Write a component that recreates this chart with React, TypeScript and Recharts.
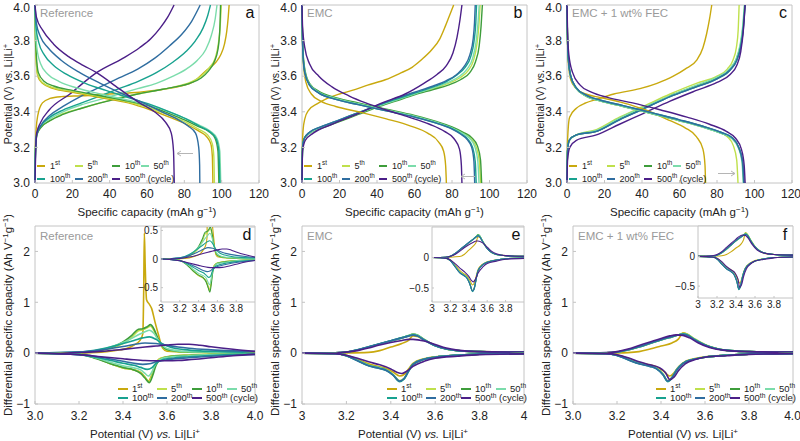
import { LineChart, Line, XAxis, YAxis, ReferenceArea } from 'recharts'

type Pt = [number, number]

const cycleNumbers = ['1', '5', '10', '50', '100', '200', '500']
const cycleSuffix = ['st', 'th', 'th', 'th', 'th', 'th', 'th']
const cycleColors = ['#c9a90e', '#bfe04c', '#3e9d3b', '#7bdcab', '#18a28f', '#2f6da0', '#4b1f88']

const capacityTicks = [0, 20, 40, 60, 80, 100, 120]
const potentialTicks = [3.0, 3.2, 3.4, 3.6, 3.8, 4.0]
const dqdvTicks = [-1, 0, 1, 2]
const insetXTicks = [3, 3.2, 3.4, 3.6, 3.8]

// [capacity mAh/g, potential V] per cycle: 1st, 5th, 10th, 50th, 100th, 200th, 500th
const refCharge: Pt[][] = [
  [[0, 3.0], [0.2, 3.2], [0.6, 3.3], [1.5, 3.38], [4, 3.45], [8, 3.475], [14, 3.485], [25, 3.49], [40, 3.5], [56, 3.51], [68, 3.525], [78, 3.545], [85, 3.57], [92, 3.635], [97, 3.68], [99.5, 3.72], [101.5, 3.78], [102.7, 3.85], [103.5, 3.93], [104, 4.0]],
  [[0, 3.0], [0.3, 3.2], [1, 3.27], [3, 3.31], [8, 3.35], [15, 3.39], [25, 3.42], [35, 3.45], [45, 3.48], [55, 3.5], [65, 3.52], [75, 3.54], [83, 3.565], [89, 3.6], [93.5, 3.65], [96.5, 3.7], [98.2, 3.78], [99.2, 3.88], [99.8, 4.0]],
  [[0, 3.0], [0.3, 3.2], [1, 3.27], [3, 3.31], [8, 3.35], [15, 3.385], [25, 3.42], [35, 3.45], [45, 3.475], [55, 3.5], [65, 3.52], [75, 3.54], [83, 3.56], [89, 3.59], [93, 3.63], [96, 3.68], [98, 3.75], [99, 3.86], [99.4, 4.0]],
  [[0, 3.0], [0.3, 3.2], [1, 3.28], [3, 3.32], [8, 3.36], [15, 3.4], [25, 3.44], [35, 3.47], [45, 3.5], [55, 3.53], [65, 3.56], [74, 3.6], [81, 3.64], [87, 3.69], [91.5, 3.75], [94.5, 3.83], [96.5, 3.92], [97.5, 4.0]],
  [[0, 3.0], [0.3, 3.2], [1, 3.28], [3, 3.32], [8, 3.37], [15, 3.41], [25, 3.45], [35, 3.49], [45, 3.53], [55, 3.57], [65, 3.62], [74, 3.68], [81, 3.74], [86, 3.8], [90, 3.87], [92.5, 3.94], [94, 4.0]],
  [[0, 3.0], [0.3, 3.18], [1, 3.27], [3, 3.32], [8, 3.38], [15, 3.43], [25, 3.49], [35, 3.54], [45, 3.59], [55, 3.64], [64, 3.7], [72, 3.77], [79, 3.84], [84, 3.91], [88.5, 4.0]],
  [[0, 3.0], [0.3, 3.15], [0.9, 3.28], [3, 3.34], [7.6, 3.41], [18.7, 3.5], [33, 3.62], [47, 3.7], [56, 3.76], [62, 3.81], [67, 3.87], [71, 3.93], [74.5, 4.0]],
]
const refDischarge: Pt[][] = [
  [[0, 4.0], [0.2, 3.85], [0.6, 3.7], [1.5, 3.6], [4, 3.56], [10, 3.53], [20, 3.51], [35, 3.48], [50, 3.45], [62, 3.41], [72, 3.37], [81, 3.33], [88, 3.29], [92, 3.26], [94.2, 3.22], [95, 3.15], [95.3, 3.0]],
  [[0, 4.0], [0.2, 3.85], [0.6, 3.7], [1.5, 3.61], [4, 3.565], [10, 3.535], [20, 3.515], [35, 3.485], [50, 3.455], [62, 3.42], [72, 3.38], [81, 3.34], [88, 3.3], [92.5, 3.27], [95, 3.22], [95.8, 3.15], [96.1, 3.0]],
  [[0, 4.0], [0.2, 3.86], [0.7, 3.72], [1.8, 3.62], [5, 3.57], [10, 3.545], [20, 3.52], [35, 3.49], [50, 3.46], [62, 3.43], [72, 3.39], [81, 3.35], [88, 3.315], [93, 3.29], [96.5, 3.25], [98, 3.18], [98.5, 3.0]],
  [[0, 4.0], [0.3, 3.87], [1, 3.76], [3, 3.67], [7, 3.61], [13, 3.57], [22, 3.535], [35, 3.5], [50, 3.465], [62, 3.435], [72, 3.4], [81, 3.36], [88, 3.325], [94, 3.29], [97.5, 3.25], [99, 3.18], [99.5, 3.0]],
  [[0, 4.0], [0.5, 3.88], [2, 3.79], [5, 3.72], [10, 3.66], [17, 3.61], [27, 3.56], [38, 3.52], [50, 3.48], [62, 3.44], [72, 3.4], [81, 3.36], [88, 3.32], [94, 3.285], [97, 3.25], [98.5, 3.18], [99, 3.0]],
  [[0, 4.0], [0.7, 3.9], [3, 3.82], [7, 3.76], [14, 3.69], [24, 3.62], [35, 3.56], [47, 3.5], [58, 3.45], [68, 3.4], [76, 3.36], [82, 3.32], [86, 3.28], [87.7, 3.2], [88.2, 3.1], [88.3, 3.0]],
  [[0, 4.0], [0.8, 3.93], [4, 3.86], [10, 3.78], [18, 3.71], [26, 3.66], [33, 3.62], [45, 3.53], [56, 3.45], [64, 3.4], [70, 3.34], [73, 3.28], [74.2, 3.18], [74.6, 3.0]],
]

const emcCharge: Pt[][] = [
  [[0, 3.0], [0.2, 3.2], [0.6, 3.3], [1.5, 3.36], [3.6, 3.41], [8, 3.445], [12.4, 3.47], [20, 3.5], [26.7, 3.52], [35, 3.55], [44.4, 3.58], [52, 3.615], [58.7, 3.65], [64, 3.695], [69.3, 3.75], [73.5, 3.81], [76.4, 3.88], [79, 3.95], [80.9, 4.0]],
  [[0, 3.0], [0.3, 3.2], [1.2, 3.25], [4, 3.28], [10, 3.31], [20, 3.35], [30, 3.39], [40, 3.43], [50, 3.465], [60, 3.5], [70, 3.53], [78, 3.56], [84, 3.59], [88.5, 3.63], [91.5, 3.69], [93.3, 3.78], [94.3, 3.88], [95, 4.0]],
  [[0, 3.0], [0.3, 3.2], [1.2, 3.25], [4, 3.28], [10, 3.305], [20, 3.345], [30, 3.385], [40, 3.425], [50, 3.46], [60, 3.495], [70, 3.525], [78, 3.55], [84.5, 3.58], [89.5, 3.62], [92.5, 3.68], [94.5, 3.77], [95.5, 3.88], [96.2, 4.0]],
  [[0, 3.0], [0.3, 3.2], [1.2, 3.25], [4, 3.28], [10, 3.31], [20, 3.35], [30, 3.39], [40, 3.43], [50, 3.465], [60, 3.5], [70, 3.535], [78, 3.565], [84, 3.6], [88, 3.64], [91, 3.7], [92.8, 3.79], [93.8, 3.89], [94.5, 4.0]],
  [[0, 3.0], [0.3, 3.2], [1.2, 3.25], [4, 3.285], [10, 3.315], [20, 3.355], [30, 3.395], [40, 3.435], [50, 3.47], [60, 3.505], [70, 3.54], [77, 3.57], [83, 3.61], [87, 3.65], [90, 3.71], [91.8, 3.8], [92.7, 3.9], [93.1, 4.0]],
  [[0, 3.0], [0.3, 3.2], [1.2, 3.25], [4, 3.285], [10, 3.315], [20, 3.355], [30, 3.395], [40, 3.435], [50, 3.475], [60, 3.51], [70, 3.545], [77, 3.575], [82.5, 3.61], [86.5, 3.655], [89.5, 3.72], [91.3, 3.81], [92, 3.9], [92.4, 4.0]],
  [[0, 3.0], [0.3, 3.18], [1.8, 3.24], [6, 3.28], [16, 3.33], [30, 3.39], [42.7, 3.45], [55, 3.5], [65, 3.56], [72, 3.61], [77, 3.66], [80.5, 3.73], [82.7, 3.82], [84.3, 3.92], [85.3, 4.0]],
]
const emcDischarge: Pt[][] = [
  [[0, 4.0], [0.2, 3.85], [0.7, 3.68], [2, 3.57], [5, 3.5], [10, 3.46], [18, 3.43], [30, 3.4], [45, 3.36], [58, 3.32], [67, 3.28], [72.9, 3.23], [75.5, 3.18], [76.6, 3.1], [77, 3.0]],
  [[0, 4.0], [0.2, 3.85], [0.6, 3.72], [1.5, 3.63], [4, 3.555], [9, 3.51], [18, 3.475], [30, 3.445], [45, 3.41], [60, 3.375], [72, 3.34], [80, 3.31], [86, 3.28], [90, 3.25], [93, 3.2], [94.6, 3.12], [95.2, 3.0]],
  [[0, 4.0], [0.2, 3.86], [0.6, 3.73], [1.5, 3.64], [4, 3.56], [9, 3.515], [18, 3.48], [30, 3.45], [45, 3.415], [60, 3.38], [72, 3.345], [80, 3.315], [86, 3.285], [90.5, 3.255], [93.5, 3.21], [95.2, 3.13], [95.8, 3.0]],
  [[0, 4.0], [0.2, 3.85], [0.6, 3.72], [1.5, 3.63], [4, 3.555], [9, 3.51], [18, 3.475], [30, 3.445], [45, 3.41], [60, 3.375], [72, 3.34], [80, 3.31], [85.5, 3.28], [89.5, 3.25], [92.3, 3.2], [93.8, 3.12], [94.4, 3.0]],
  [[0, 4.0], [0.2, 3.84], [0.6, 3.71], [1.5, 3.62], [4, 3.55], [9, 3.505], [18, 3.47], [30, 3.44], [45, 3.405], [60, 3.37], [72, 3.335], [80, 3.305], [85, 3.275], [88.5, 3.245], [91, 3.2], [92.4, 3.12], [92.9, 3.0]],
  [[0, 4.0], [0.2, 3.84], [0.6, 3.71], [1.5, 3.62], [4, 3.55], [9, 3.505], [18, 3.47], [30, 3.44], [45, 3.405], [60, 3.37], [72, 3.335], [79.5, 3.305], [84.5, 3.275], [88, 3.245], [90.5, 3.2], [91.7, 3.12], [92.1, 3.0]],
  [[0, 4.0], [0.3, 3.88], [1.5, 3.76], [4, 3.67], [9, 3.6], [16, 3.54], [25, 3.49], [34, 3.45], [45, 3.41], [57, 3.37], [68, 3.33], [76, 3.29], [81, 3.25], [84, 3.19], [85, 3.1], [85.3, 3.0]],
]

const fecCharge: Pt[][] = [
  [[0, 3.0], [0.2, 3.2], [0.6, 3.3], [1.4, 3.37], [5, 3.42], [10, 3.45], [15.7, 3.47], [25, 3.5], [38.9, 3.53], [48, 3.56], [56.7, 3.6], [63, 3.64], [69.2, 3.69], [72.5, 3.76], [74.5, 3.84], [76, 3.92], [77.2, 4.0]],
  [[0, 3.0], [0.3, 3.18], [1.2, 3.24], [5, 3.27], [15.7, 3.3], [28, 3.37], [40.6, 3.43], [55, 3.5], [69, 3.56], [80, 3.6], [85.5, 3.64], [88.5, 3.69], [90.3, 3.76], [91.3, 3.86], [91.8, 4.0]],
  [[0, 3.0], [0.3, 3.18], [1.2, 3.24], [5, 3.27], [15.7, 3.29], [28, 3.36], [40.6, 3.42], [55, 3.49], [69, 3.545], [80, 3.59], [87, 3.64], [90.5, 3.7], [92.4, 3.77], [93.8, 3.87], [94.8, 4.0]],
  [[0, 3.0], [0.3, 3.18], [1.2, 3.24], [5, 3.27], [15.7, 3.295], [28, 3.365], [40.6, 3.425], [55, 3.49], [69, 3.55], [80, 3.595], [87, 3.645], [90.3, 3.7], [92.2, 3.77], [93.6, 3.87], [94.6, 4.0]],
  [[0, 3.0], [0.3, 3.18], [1.2, 3.24], [5, 3.27], [15.7, 3.29], [28, 3.355], [40.6, 3.415], [55, 3.485], [69, 3.54], [80, 3.585], [87, 3.635], [90.5, 3.69], [92.5, 3.76], [93.9, 3.86], [94.9, 4.0]],
  [[0, 3.0], [0.3, 3.18], [1.2, 3.24], [5, 3.27], [15.7, 3.29], [28, 3.355], [40.6, 3.415], [55, 3.485], [69, 3.54], [80, 3.585], [87, 3.635], [90.6, 3.69], [92.6, 3.76], [94, 3.86], [95, 4.0]],
  [[0, 3.0], [0.3, 3.13], [1.5, 3.2], [5, 3.24], [15.7, 3.27], [28, 3.33], [40.6, 3.39], [55, 3.46], [69, 3.52], [80, 3.565], [87, 3.61], [90.5, 3.66], [92.7, 3.74], [94, 3.85], [95, 4.0]],
]
const fecDischarge: Pt[][] = [
  [[0, 4.0], [0.2, 3.85], [0.7, 3.68], [2, 3.58], [5, 3.53], [10, 3.5], [18, 3.48], [30, 3.45], [42, 3.41], [55, 3.35], [63, 3.31], [69, 3.26], [72.5, 3.19], [73.6, 3.1], [73.9, 3.0]],
  [[0, 4.0], [0.2, 3.85], [0.7, 3.7], [2, 3.6], [5, 3.53], [10, 3.49], [18, 3.46], [30, 3.43], [45, 3.39], [60, 3.35], [72, 3.32], [80, 3.29], [85.5, 3.26], [88.7, 3.21], [90.5, 3.13], [91.2, 3.0]],
  [[0, 4.0], [0.2, 3.85], [0.7, 3.7], [2, 3.6], [5, 3.53], [10, 3.49], [18, 3.46], [30, 3.43], [45, 3.39], [60, 3.35], [72, 3.315], [82, 3.28], [88, 3.25], [91.5, 3.2], [93.5, 3.12], [94.2, 3.0]],
  [[0, 4.0], [0.2, 3.85], [0.7, 3.7], [2, 3.6], [5, 3.53], [10, 3.49], [18, 3.46], [30, 3.43], [45, 3.39], [60, 3.35], [72, 3.315], [82, 3.28], [88, 3.25], [91.3, 3.2], [93.3, 3.12], [94, 3.0]],
  [[0, 4.0], [0.2, 3.85], [0.7, 3.7], [2, 3.6], [5, 3.535], [10, 3.495], [18, 3.465], [30, 3.435], [45, 3.395], [60, 3.355], [72, 3.32], [82, 3.285], [88, 3.255], [91.6, 3.2], [93.7, 3.12], [94.4, 3.0]],
  [[0, 4.0], [0.2, 3.85], [0.7, 3.7], [2, 3.6], [5, 3.535], [10, 3.495], [18, 3.465], [30, 3.435], [45, 3.395], [60, 3.355], [72, 3.32], [82, 3.285], [88, 3.255], [91.6, 3.2], [93.6, 3.12], [94.3, 3.0]],
  [[0, 4.0], [0.3, 3.85], [1, 3.72], [3, 3.62], [7, 3.55], [13, 3.51], [22, 3.48], [35, 3.45], [50, 3.41], [64, 3.37], [76, 3.33], [85, 3.29], [90, 3.25], [93, 3.19], [94.5, 3.1], [95, 3.0]],
]

// [potential V, dQ/dV Ah/(V g)] per cycle, oxidation (charge) and reduction (discharge)
const refOx: Pt[][] = [
  [[3.0, 0], [3.2, 0.005], [3.3, 0.02], [3.36, 0.05], [3.416, 0.09], [3.45, 0.16], [3.477, 0.25], [3.49, 0.38], [3.494, 1.2], [3.497, 2.36], [3.501, 1.7], [3.507, 1.05], [3.52, 0.96], [3.53, 0.88], [3.545, 0.62], [3.56, 0.38], [3.58, 0.1], [3.6, 0.04], [3.7, 0.02], [3.8, 0.015], [4.0, 0.01]],
  [[3.0, 0], [3.2, 0.01], [3.3, 0.05], [3.35, 0.1], [3.4, 0.19], [3.44, 0.31], [3.47, 0.44], [3.49, 0.46], [3.51, 0.5], [3.525, 0.53], [3.54, 0.45], [3.56, 0.25], [3.58, 0.12], [3.6, 0.06], [3.65, 0.03], [3.7, 0.02], [3.8, 0.015], [4.0, 0.01]],
  [[3.0, 0], [3.2, 0.01], [3.3, 0.06], [3.35, 0.12], [3.4, 0.22], [3.44, 0.35], [3.47, 0.47], [3.49, 0.48], [3.51, 0.52], [3.525, 0.56], [3.54, 0.48], [3.56, 0.28], [3.58, 0.13], [3.6, 0.07], [3.65, 0.035], [3.7, 0.025], [3.8, 0.015], [4.0, 0.01]],
  [[3.0, 0], [3.2, 0.015], [3.3, 0.07], [3.35, 0.13], [3.4, 0.21], [3.44, 0.29], [3.47, 0.36], [3.5, 0.42], [3.52, 0.45], [3.54, 0.39], [3.56, 0.26], [3.58, 0.15], [3.6, 0.09], [3.65, 0.045], [3.7, 0.03], [3.8, 0.02], [4.0, 0.01]],
  [[3.0, 0], [3.2, 0.02], [3.3, 0.08], [3.35, 0.13], [3.4, 0.19], [3.45, 0.25], [3.49, 0.3], [3.52, 0.32], [3.55, 0.27], [3.58, 0.18], [3.62, 0.11], [3.68, 0.07], [3.75, 0.045], [3.85, 0.03], [4.0, 0.02]],
  [[3.0, 0], [3.2, 0.02], [3.3, 0.06], [3.4, 0.13], [3.45, 0.17], [3.5, 0.2], [3.55, 0.19], [3.6, 0.155], [3.65, 0.12], [3.7, 0.095], [3.8, 0.065], [3.9, 0.045], [4.0, 0.03]],
  [[3.0, 0], [3.2, 0.01], [3.3, 0.035], [3.4, 0.075], [3.5, 0.12], [3.55, 0.14], [3.6, 0.16], [3.65, 0.175], [3.7, 0.175], [3.75, 0.155], [3.8, 0.125], [3.9, 0.075], [4.0, 0.035]],
]
const refRed: Pt[][] = [
  [[3.0, 0], [3.2, -0.02], [3.25, -0.06], [3.3, -0.13], [3.35, -0.22], [3.4, -0.29], [3.45, -0.33], [3.48, -0.38], [3.5, -0.47], [3.515, -0.55], [3.53, -0.44], [3.545, -0.24], [3.56, -0.13], [3.58, -0.09], [3.6, -0.07], [3.7, -0.04], [3.8, -0.025], [4.0, -0.01]],
  [[3.0, 0], [3.2, -0.02], [3.25, -0.06], [3.3, -0.13], [3.35, -0.22], [3.4, -0.29], [3.45, -0.33], [3.48, -0.39], [3.5, -0.48], [3.517, -0.56], [3.53, -0.46], [3.545, -0.25], [3.56, -0.14], [3.58, -0.09], [3.6, -0.07], [3.7, -0.04], [3.8, -0.025], [4.0, -0.01]],
  [[3.0, 0], [3.2, -0.02], [3.25, -0.07], [3.3, -0.14], [3.35, -0.22], [3.4, -0.28], [3.45, -0.33], [3.48, -0.4], [3.5, -0.49], [3.52, -0.58], [3.535, -0.44], [3.55, -0.24], [3.565, -0.14], [3.58, -0.1], [3.6, -0.075], [3.7, -0.045], [3.8, -0.03], [4.0, -0.012]],
  [[3.0, 0], [3.2, -0.025], [3.3, -0.12], [3.35, -0.19], [3.4, -0.25], [3.45, -0.29], [3.48, -0.33], [3.5, -0.4], [3.515, -0.45], [3.53, -0.38], [3.545, -0.24], [3.56, -0.15], [3.58, -0.1], [3.6, -0.08], [3.7, -0.05], [3.8, -0.03], [4.0, -0.015]],
  [[3.0, 0], [3.2, -0.03], [3.3, -0.1], [3.35, -0.15], [3.4, -0.2], [3.45, -0.24], [3.48, -0.28], [3.51, -0.32], [3.53, -0.29], [3.55, -0.2], [3.58, -0.13], [3.62, -0.1], [3.7, -0.07], [3.8, -0.045], [4.0, -0.02]],
  [[3.0, 0], [3.2, -0.03], [3.3, -0.08], [3.35, -0.12], [3.4, -0.16], [3.45, -0.2], [3.49, -0.22], [3.52, -0.21], [3.55, -0.17], [3.6, -0.13], [3.7, -0.09], [3.8, -0.06], [3.9, -0.04], [4.0, -0.025]],
  [[3.0, 0], [3.2, -0.03], [3.3, -0.07], [3.4, -0.11], [3.45, -0.13], [3.5, -0.145], [3.55, -0.15], [3.6, -0.15], [3.65, -0.145], [3.7, -0.13], [3.8, -0.09], [3.9, -0.05], [4.0, -0.025]],
]

const emcOx: Pt[][] = [
  [[3.0, 0], [3.2, 0.005], [3.3, 0.015], [3.35, 0.05], [3.4, 0.12], [3.45, 0.19], [3.48, 0.25], [3.5, 0.34], [3.52, 0.33], [3.55, 0.26], [3.6, 0.15], [3.65, 0.08], [3.7, 0.05], [3.8, 0.03], [4.0, 0.02]],
  [[3.0, 0], [3.15, 0.005], [3.2, 0.02], [3.25, 0.06], [3.3, 0.12], [3.35, 0.18], [3.4, 0.24], [3.45, 0.3], [3.48, 0.34], [3.5, 0.37], [3.52, 0.35], [3.55, 0.27], [3.6, 0.15], [3.65, 0.08], [3.7, 0.05], [3.8, 0.03], [3.9, 0.02], [4.0, 0.02]],
  [[3.0, 0], [3.15, 0.005], [3.2, 0.02], [3.25, 0.06], [3.3, 0.12], [3.35, 0.18], [3.4, 0.24], [3.45, 0.3], [3.48, 0.345], [3.5, 0.375], [3.52, 0.355], [3.55, 0.27], [3.6, 0.15], [3.65, 0.08], [3.7, 0.05], [3.8, 0.03], [3.9, 0.02], [4.0, 0.02]],
  [[3.0, 0], [3.15, 0.005], [3.2, 0.02], [3.25, 0.06], [3.3, 0.12], [3.35, 0.18], [3.4, 0.24], [3.45, 0.3], [3.48, 0.34], [3.5, 0.37], [3.52, 0.35], [3.55, 0.27], [3.6, 0.15], [3.65, 0.08], [3.7, 0.05], [3.8, 0.03], [3.9, 0.02], [4.0, 0.02]],
  [[3.0, 0], [3.15, 0.005], [3.2, 0.02], [3.25, 0.065], [3.3, 0.125], [3.35, 0.185], [3.4, 0.245], [3.45, 0.305], [3.48, 0.34], [3.5, 0.36], [3.52, 0.34], [3.55, 0.26], [3.6, 0.145], [3.65, 0.08], [3.7, 0.05], [3.8, 0.03], [3.9, 0.02], [4.0, 0.02]],
  [[3.0, 0], [3.15, 0.005], [3.2, 0.02], [3.25, 0.065], [3.3, 0.125], [3.35, 0.185], [3.4, 0.245], [3.45, 0.3], [3.48, 0.335], [3.5, 0.355], [3.52, 0.335], [3.55, 0.26], [3.6, 0.145], [3.65, 0.08], [3.7, 0.05], [3.8, 0.03], [3.9, 0.02], [4.0, 0.02]],
  [[3.0, 0], [3.15, 0.005], [3.2, 0.02], [3.25, 0.05], [3.3, 0.1], [3.35, 0.16], [3.4, 0.21], [3.45, 0.25], [3.48, 0.27], [3.5, 0.27], [3.55, 0.24], [3.6, 0.17], [3.65, 0.1], [3.7, 0.06], [3.8, 0.03], [4.0, 0.02]],
]
const emcRed: Pt[][] = [
  [[3.0, 0], [3.15, -0.01], [3.2, -0.04], [3.25, -0.12], [3.3, -0.21], [3.35, -0.27], [3.38, -0.3], [3.41, -0.37], [3.44, -0.45], [3.46, -0.42], [3.48, -0.31], [3.5, -0.2], [3.55, -0.11], [3.6, -0.07], [3.7, -0.04], [3.8, -0.02], [4.0, -0.01]],
  [[3.0, 0], [3.15, -0.01], [3.2, -0.05], [3.25, -0.14], [3.3, -0.24], [3.35, -0.29], [3.38, -0.33], [3.41, -0.42], [3.44, -0.54], [3.46, -0.5], [3.48, -0.35], [3.5, -0.22], [3.55, -0.12], [3.6, -0.08], [3.7, -0.04], [3.8, -0.02], [4.0, -0.01]],
  [[3.0, 0], [3.15, -0.01], [3.2, -0.05], [3.25, -0.14], [3.3, -0.24], [3.35, -0.29], [3.38, -0.33], [3.41, -0.42], [3.44, -0.55], [3.46, -0.5], [3.48, -0.35], [3.5, -0.22], [3.55, -0.12], [3.6, -0.08], [3.7, -0.04], [3.8, -0.02], [4.0, -0.01]],
  [[3.0, 0], [3.15, -0.01], [3.2, -0.05], [3.25, -0.14], [3.3, -0.24], [3.35, -0.29], [3.38, -0.33], [3.41, -0.42], [3.44, -0.55], [3.46, -0.5], [3.48, -0.35], [3.5, -0.22], [3.55, -0.12], [3.6, -0.08], [3.7, -0.04], [3.8, -0.02], [4.0, -0.01]],
  [[3.0, 0], [3.15, -0.01], [3.2, -0.05], [3.25, -0.15], [3.3, -0.25], [3.35, -0.3], [3.38, -0.34], [3.41, -0.43], [3.44, -0.56], [3.46, -0.51], [3.48, -0.36], [3.5, -0.22], [3.55, -0.12], [3.6, -0.08], [3.7, -0.04], [3.8, -0.02], [4.0, -0.01]],
  [[3.0, 0], [3.15, -0.01], [3.2, -0.05], [3.25, -0.15], [3.3, -0.25], [3.35, -0.3], [3.38, -0.34], [3.41, -0.43], [3.44, -0.55], [3.46, -0.5], [3.48, -0.35], [3.5, -0.22], [3.55, -0.12], [3.6, -0.08], [3.7, -0.04], [3.8, -0.02], [4.0, -0.01]],
  [[3.0, 0], [3.15, -0.01], [3.2, -0.04], [3.25, -0.1], [3.3, -0.17], [3.35, -0.23], [3.4, -0.31], [3.43, -0.38], [3.45, -0.4], [3.47, -0.36], [3.5, -0.26], [3.55, -0.16], [3.6, -0.1], [3.7, -0.06], [3.8, -0.03], [4.0, -0.015]],
]

const fecOx: Pt[][] = [
  [[3.0, 0], [3.2, 0.005], [3.25, 0.01], [3.3, 0.03], [3.35, 0.08], [3.4, 0.14], [3.45, 0.2], [3.48, 0.28], [3.5, 0.4], [3.52, 0.37], [3.55, 0.28], [3.6, 0.16], [3.65, 0.09], [3.7, 0.05], [3.8, 0.03], [4.0, 0.02]],
  [[3.0, 0], [3.15, 0.005], [3.2, 0.02], [3.25, 0.06], [3.3, 0.12], [3.35, 0.19], [3.4, 0.26], [3.45, 0.32], [3.48, 0.36], [3.5, 0.39], [3.52, 0.37], [3.55, 0.29], [3.6, 0.17], [3.65, 0.095], [3.7, 0.055], [3.8, 0.03], [3.9, 0.02], [4.0, 0.02]],
  [[3.0, 0], [3.15, 0.005], [3.2, 0.02], [3.25, 0.06], [3.3, 0.12], [3.35, 0.19], [3.4, 0.26], [3.45, 0.32], [3.48, 0.36], [3.5, 0.38], [3.52, 0.36], [3.55, 0.28], [3.6, 0.16], [3.65, 0.09], [3.7, 0.055], [3.8, 0.03], [3.9, 0.02], [4.0, 0.02]],
  [[3.0, 0], [3.15, 0.005], [3.2, 0.02], [3.25, 0.06], [3.3, 0.12], [3.35, 0.19], [3.4, 0.26], [3.45, 0.32], [3.48, 0.36], [3.5, 0.38], [3.52, 0.36], [3.55, 0.28], [3.6, 0.16], [3.65, 0.09], [3.7, 0.055], [3.8, 0.03], [3.9, 0.02], [4.0, 0.02]],
  [[3.0, 0], [3.15, 0.005], [3.2, 0.02], [3.25, 0.065], [3.3, 0.125], [3.35, 0.195], [3.4, 0.265], [3.45, 0.325], [3.48, 0.36], [3.5, 0.375], [3.52, 0.355], [3.55, 0.275], [3.6, 0.16], [3.65, 0.09], [3.7, 0.055], [3.8, 0.03], [3.9, 0.02], [4.0, 0.02]],
  [[3.0, 0], [3.15, 0.005], [3.2, 0.02], [3.25, 0.065], [3.3, 0.125], [3.35, 0.195], [3.4, 0.265], [3.45, 0.325], [3.48, 0.355], [3.5, 0.37], [3.52, 0.35], [3.55, 0.27], [3.6, 0.16], [3.65, 0.09], [3.7, 0.055], [3.8, 0.03], [3.9, 0.02], [4.0, 0.02]],
  [[3.0, 0], [3.15, 0.01], [3.2, 0.03], [3.25, 0.08], [3.3, 0.15], [3.35, 0.22], [3.4, 0.29], [3.44, 0.34], [3.47, 0.36], [3.5, 0.35], [3.53, 0.3], [3.57, 0.2], [3.62, 0.11], [3.68, 0.06], [3.8, 0.03], [4.0, 0.02]],
]
const fecRed: Pt[][] = [
  [[3.0, 0], [3.15, -0.01], [3.2, -0.03], [3.25, -0.1], [3.3, -0.18], [3.35, -0.23], [3.38, -0.27], [3.41, -0.35], [3.44, -0.45], [3.46, -0.38], [3.48, -0.27], [3.5, -0.19], [3.55, -0.11], [3.6, -0.07], [3.7, -0.04], [3.8, -0.02], [4.0, -0.01]],
  [[3.0, 0], [3.15, -0.01], [3.2, -0.04], [3.25, -0.12], [3.3, -0.2], [3.35, -0.25], [3.38, -0.3], [3.41, -0.42], [3.43, -0.54], [3.45, -0.48], [3.47, -0.33], [3.5, -0.2], [3.55, -0.12], [3.6, -0.08], [3.7, -0.04], [3.8, -0.02], [4.0, -0.01]],
  [[3.0, 0], [3.15, -0.01], [3.2, -0.04], [3.25, -0.12], [3.3, -0.2], [3.35, -0.25], [3.38, -0.3], [3.41, -0.42], [3.43, -0.55], [3.45, -0.48], [3.47, -0.33], [3.5, -0.2], [3.55, -0.12], [3.6, -0.08], [3.7, -0.04], [3.8, -0.02], [4.0, -0.01]],
  [[3.0, 0], [3.15, -0.01], [3.2, -0.04], [3.25, -0.12], [3.3, -0.2], [3.35, -0.25], [3.38, -0.3], [3.41, -0.42], [3.43, -0.55], [3.45, -0.48], [3.47, -0.33], [3.5, -0.2], [3.55, -0.12], [3.6, -0.08], [3.7, -0.04], [3.8, -0.02], [4.0, -0.01]],
  [[3.0, 0], [3.15, -0.01], [3.2, -0.045], [3.25, -0.13], [3.3, -0.21], [3.35, -0.26], [3.38, -0.31], [3.41, -0.43], [3.43, -0.56], [3.45, -0.49], [3.47, -0.34], [3.5, -0.2], [3.55, -0.12], [3.6, -0.08], [3.7, -0.04], [3.8, -0.02], [4.0, -0.01]],
  [[3.0, 0], [3.15, -0.01], [3.2, -0.045], [3.25, -0.13], [3.3, -0.21], [3.35, -0.26], [3.38, -0.31], [3.41, -0.43], [3.43, -0.55], [3.45, -0.48], [3.47, -0.34], [3.5, -0.2], [3.55, -0.12], [3.6, -0.08], [3.7, -0.04], [3.8, -0.02], [4.0, -0.01]],
  [[3.0, 0], [3.15, -0.01], [3.2, -0.03], [3.25, -0.09], [3.3, -0.17], [3.35, -0.23], [3.39, -0.28], [3.42, -0.38], [3.44, -0.52], [3.46, -0.47], [3.48, -0.34], [3.51, -0.21], [3.56, -0.12], [3.6, -0.08], [3.7, -0.05], [3.8, -0.025], [4.0, -0.01]],
]

const font = "'Liberation Sans', Arial, sans-serif"
const frame = '#c4c4c4'
const ink = '#222'

const toRows = (pts: Pt[]) => pts.map(([x, y]) => ({ x, y }))
const minus = (v: number, digits?: number) => {
  const s = digits === undefined ? String(Math.abs(v)) : Math.abs(v).toFixed(digits)
  return v < 0 ? '\u2212' + s : s
}

function curves(sets: Pt[][], tag: string, width: number) {
  return sets.map((pts, i) => (
    <Line
      key={tag + i}
      data={toRows(pts)}
      dataKey="y"
      type="monotone"
      stroke={cycleColors[i]}
      strokeWidth={width}
      dot={false}
      activeDot={false}
      isAnimationActive={false}
    />
  ))
}

const capacityTitle = ({ viewBox }: any) => (
  <text x={viewBox.x + viewBox.width / 2} y={viewBox.y + 33} textAnchor="middle" fontSize={11.5} fill={ink} fontFamily={font}>
    Specific capacity (mAh g<tspan dy={-4} fontSize={8}>−1</tspan><tspan dy={4}>)</tspan>
  </text>
)

const potentialXTitle = ({ viewBox }: any) => (
  <text x={viewBox.x + viewBox.width / 2} y={viewBox.y + 34} textAnchor="middle" fontSize={11.5} fill={ink} fontFamily={font}>
    Potential (V) <tspan fontStyle="italic">vs.</tspan> Li|Li<tspan dy={-4} fontSize={8}>+</tspan>
  </text>
)

const potentialYTitle = ({ viewBox }: any) => {
  const cx = 12
  const cy = viewBox.y + viewBox.height / 2
  return (
    <text x={cx} y={cy} transform={`rotate(-90 ${cx} ${cy})`} textAnchor="middle" fontSize={10.5} fill={ink} fontFamily={font}>
      Potential (V) vs. Li|Li<tspan dy={-4} fontSize={7.5}>+</tspan>
    </text>
  )
}

const dqdvYTitle = ({ viewBox }: any) => {
  const cx = 12
  const cy = viewBox.y + viewBox.height / 2
  return (
    <text x={cx} y={cy} transform={`rotate(-90 ${cx} ${cy})`} textAnchor="middle" fontSize={11.5} fill={ink} fontFamily={font}>
      Differential specific capacity (Ah V<tspan dy={-4} fontSize={8}>−1</tspan>
      <tspan dy={4}>g</tspan><tspan dy={-4} fontSize={8}>−1</tspan><tspan dy={4}>)</tspan>
    </text>
  )
}

function CycleLegend({ x, y, cols, rowGap, swatch, gap, size }: { x: number; y: number; cols: number[]; rowGap: number; swatch: number; gap: number; size: number }) {
  return (
    <>
      {cycleNumbers.map((n, i) => {
        const row = i < 4 ? 0 : 1
        const col = i < 4 ? i : i - 4
        return (
          <div
            key={n}
            style={{
              position: 'absolute', left: x + cols[col], top: y + row * rowGap - 6, height: 12,
              display: 'flex', alignItems: 'center', fontSize: size, color: ink, whiteSpace: 'nowrap', lineHeight: 1,
            }}
          >
            <span style={{ display: 'inline-block', width: swatch, height: 2, background: cycleColors[i], marginRight: gap }} />
            <span>
              {n}
              <span style={{ fontSize: '0.7em', position: 'relative', top: '-0.5em' }}>{cycleSuffix[i]}</span>
              {i === 6 ? ' (cycle)' : ''}
            </span>
          </div>
        )
      })}
    </>
  )
}

function Tag({ x, y, text }: { x: number; y: number; text: string }) {
  return (
    <div style={{ position: 'absolute', left: x, top: y - 7, fontSize: 11.5, lineHeight: '14px', color: '#9a9a9a', whiteSpace: 'nowrap' }}>{text}</div>
  )
}

function Letter({ x, y, text }: { x: number; y: number; text: string }) {
  return (
    <div style={{ position: 'absolute', left: x - 10, width: 20, textAlign: 'center', top: y - 9, fontSize: 16, lineHeight: '18px', color: '#111' }}>{text}</div>
  )
}

function Arrow({ x1, x2, y, toLeft }: { x1: number; x2: number; y: number; toLeft: boolean }) {
  const head = toLeft ? x1 : x2
  const d = toLeft ? 4 : -4
  return (
    <svg style={{ position: 'absolute', left: 0, top: 0, overflow: 'visible' }} width={1} height={1}>
      <line x1={x1} x2={x2} y1={y} y2={y} stroke="#b5b5b5" strokeWidth={1} />
      <path d={`M${head + d},${y - 2.5} L${head},${y} L${head + d},${y + 2.5}`} fill="none" stroke="#b5b5b5" strokeWidth={1} />
    </svg>
  )
}

type CapProps = {
  left: number; width: number; right: number; tag: string; letter: string
  charge: Pt[][]; discharge: Pt[][]; arrow: { x1: number; x2: number; y: number; toLeft: boolean }
}

function CapacityPanel({ left, width, right, tag, letter, charge, discharge, arrow }: CapProps) {
  const plotLeft = left + 35
  const plotRight = left + width - right
  return (
    <>
      <div style={{ position: 'absolute', left, top: 0 }}>
        <LineChart width={width} height={220} margin={{ top: 5, right, bottom: 0, left: 0 }}>
          <XAxis
            type="number" dataKey="x" domain={[0, 120]} ticks={capacityTicks} height={37}
            axisLine={false} tickSize={-3} tickMargin={9} tickLine={{ stroke: frame }}
            tick={{ fontSize: 12, fill: ink, fontFamily: font }} label={capacityTitle}
          />
          <YAxis
            type="number" domain={[3, 4]} ticks={potentialTicks} width={35}
            axisLine={false} tickSize={-3} tickMargin={8} tickLine={{ stroke: frame }}
            tick={{ fontSize: 12, fill: ink, fontFamily: font }} tickFormatter={(v: number) => v.toFixed(1)}
            label={potentialYTitle}
          />
          <ReferenceArea x1={0} x2={120} y1={3} y2={4} fill="none" stroke={frame} strokeWidth={1} />
          {curves(charge, 'c', 1.4)}
          {curves(discharge, 'd', 1.4)}
        </LineChart>
      </div>
      <Tag x={plotLeft + 5} y={13} text={tag} />
      <Letter x={plotRight - 9} y={13} text={letter} />
      <Arrow {...arrow} />
      <CycleLegend x={plotLeft + 2} y={166} cols={[0, 37.5, 75, 103.5]} rowGap={13} swatch={8} gap={5} size={9} />
    </>
  )
}

type InsetSpec = { left: number; right: number; top: number; bottom: number; domain: [number, number]; ticks: number[] }
type DqdvProps = {
  left: number; width: number; right: number; tag: string; letter: string
  ox: Pt[][]; red: Pt[][]; digits?: number; inset: InsetSpec
}

function DqdvPanel({ left, width, right, tag, letter, ox, red, digits, inset }: DqdvProps) {
  const plotLeft = left + 35
  const plotRight = left + width - right
  const potentialTicksBottom = [3.0, 3.2, 3.4, 3.6, 3.8, 4.0]
  const axisW = 30
  const insetW = inset.right - inset.left + axisW
  const insetH = inset.bottom - inset.top + 2 + 16
  return (
    <>
      <div style={{ position: 'absolute', left, top: 215 }}>
        <LineChart width={width} height={226} margin={{ top: 11, right, bottom: 0, left: 0 }}>
          <XAxis
            type="number" dataKey="x" domain={[3, 4]} ticks={potentialTicksBottom} height={37}
            axisLine={false} tickSize={-3} tickMargin={10} tickLine={{ stroke: frame }}
            tick={{ fontSize: 12, fill: ink, fontFamily: font }}
            tickFormatter={(v: number) => (digits === undefined ? String(v) : v.toFixed(digits))}
            label={potentialXTitle}
          />
          <YAxis
            type="number" domain={[-1, 2.5]} ticks={dqdvTicks} width={35}
            axisLine={false} tickSize={-3} tickMargin={8} tickLine={{ stroke: frame }}
            tick={{ fontSize: 12, fill: ink, fontFamily: font }} tickFormatter={(v: number) => minus(v)}
            label={dqdvYTitle}
          />
          <ReferenceArea x1={3} x2={4} y1={-1} y2={2.5} fill="none" stroke={frame} strokeWidth={1} />
          {curves(ox, 'o', 1.6)}
          {curves(red, 'r', 1.6)}
        </LineChart>
      </div>
      <div style={{ position: 'absolute', left: inset.left, top: inset.top, width: inset.right - inset.left, height: inset.bottom - inset.top, background: '#fff' }} />
      <div style={{ position: 'absolute', left: inset.left - axisW, top: inset.top - 2 }}>
        <LineChart width={insetW} height={insetH} margin={{ top: 2, right: 0, bottom: 0, left: 0 }}>
          <XAxis
            type="number" dataKey="x" domain={[3, 4]} ticks={insetXTicks} height={16}
            axisLine={false} tickSize={-2} tickMargin={4.5} tickLine={{ stroke: frame }}
            tick={{ fontSize: 10, fill: ink, fontFamily: font }}
          />
          <YAxis
            type="number" domain={inset.domain} ticks={inset.ticks} width={axisW} allowDataOverflow
            axisLine={false} tickSize={-2} tickMargin={5} tickLine={{ stroke: frame }}
            tick={{ fontSize: 10, fill: ink, fontFamily: font }} tickFormatter={(v: number) => minus(v)}
          />
          <ReferenceArea x1={3} x2={4} y1={inset.domain[0]} y2={inset.domain[1]} fill="none" stroke={frame} strokeWidth={1} ifOverflow="visible" />
          {curves(ox, 'io', 1.1)}
          {curves(red, 'ir', 1.1)}
        </LineChart>
      </div>
      <Tag x={plotLeft + 5} y={236} text={tag} />
      <Letter x={plotRight - 8} y={235} text={letter} />
      <CycleLegend x={plotRight - 137} y={388.5} cols={[0, 39, 74, 109]} rowGap={9.5} swatch={10} gap={4} size={9.5} />
    </>
  )
}

export default function App() {
  return (
    <div style={{ position: 'absolute', left: 0, top: 0, width: 800, height: 441, background: '#fff', fontFamily: font, overflow: 'hidden' }}>
      <CapacityPanel left={0} width={270} right={11} tag="Reference" letter="a" charge={refCharge} discharge={refDischarge}
        arrow={{ x1: 177, x2: 193, y: 153.5, toLeft: true }} />
      <CapacityPanel left={267} width={270} right={10} tag="EMC" letter="b" charge={emcCharge} discharge={emcDischarge}
        arrow={{ x1: 461, x2: 475, y: 176.5, toLeft: true }} />
      <CapacityPanel left={532} width={268} right={8} tag="EMC + 1 wt% FEC" letter="c" charge={fecCharge} discharge={fecDischarge}
        arrow={{ x1: 718, x2: 735, y: 173.5, toLeft: false }} />

      <DqdvPanel left={0} width={265} right={10} tag="Reference" letter="d" ox={refOx} red={refRed} digits={1}
        inset={{ left: 161, right: 255, top: 227, bottom: 302, domain: [-0.75, 0.56], ticks: [-0.5, 0, 0.5] }} />
      <DqdvPanel left={267} width={265} right={8} tag="EMC" letter="e" ox={emcOx} red={emcRed}
        inset={{ left: 432, right: 524, top: 227, bottom: 302, domain: [-0.73, 0.5], ticks: [-0.5, 0] }} />
      <DqdvPanel left={538} width={262} right={7} tag="EMC + 1 wt% FEC" letter="f" ox={fecOx} red={fecRed} digits={1}
        inset={{ left: 698, right: 793, top: 226, bottom: 298, domain: [-0.7, 0.51], ticks: [-0.5, 0] }} />
    </div>
  )
}
